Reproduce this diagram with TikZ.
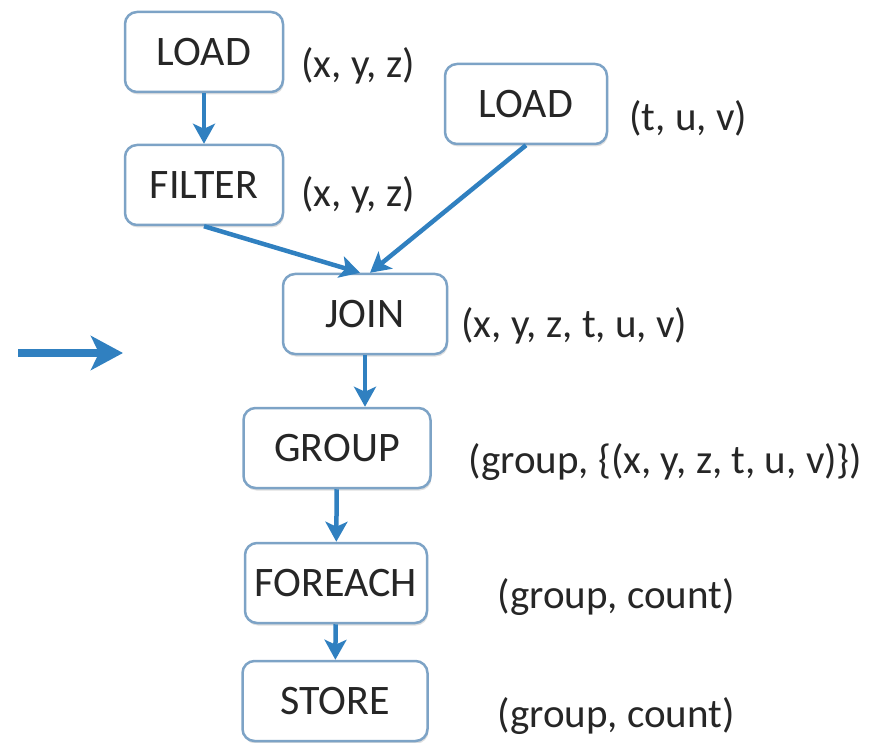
\documentclass[tikz,border=0pt]{standalone}
\usepackage{fontspec}
\setmainfont{Carlito}
\usetikzlibrary{arrows.meta,shadows}
\definecolor{boxline}{RGB}{125,163,198}
\definecolor{flow}{RGB}{48,128,192}
\definecolor{ink}{RGB}{38,38,38}
\begin{document}
\begin{tikzpicture}[x=1pt,y=-1pt,
   op/.style={draw=boxline, line width=2.5pt, rounded corners=12pt, fill=white,
      drop shadow={opacity=0.25, shadow xshift=1pt, shadow yshift=-2.5pt},
      minimum height=80pt, text=ink, font=\fontsize{42}{50}\selectfont},
   attr/.style={anchor=west, text=ink, font=\fontsize{41}{48}\selectfont},
   flowline/.style={draw=flow, line width=4.5pt, -{Stealth[length=20pt,width=22pt,inset=5pt]}}]
   \useasboundingbox (0,0) rectangle (891,743);
      \def \Ops {
         load1/204/52/158/LOAD,
         filter/204/185/158/FILTER,
         load2/526/104/162/LOAD,
         join/365/314/164/JOIN,
         group/337/448/187/GROUP,
         foreach/336/583/182/FOREACH,
         store/335/701/185/STORE}
      \def \Attrs {
         a1/298/66/{(x, y, z)},
         a2/298/195/{(x, y, z)},
         a3/626/118/{(t, u, v)},
         a4/458/326/{(x, y, z, t, u, v)},
         a5/465/462/{(group, \{(x, y, z, t, u, v)\})},
         a6/494/597/{(group, count)},
         a7/494/716/{(group, count)}}
      \foreach \u / \x / \y / \w / \t in \Ops {
         \node[op, minimum width=\w pt] (\u) at (\x, \y) {\t};
      }
      \foreach \u / \x / \y / \t in \Attrs {
         \node[attr] (\u) at (\x, \y) {\t};
      }
      % edges of the plan
      \path[flowline] (load1) -- (filter);
      \path[flowline] (filter.south) -- ([xshift=-5pt]join.north);
      \path[flowline] (load2.south) -- ([xshift=5pt]join.north);
      \path[flowline] (join.south) -- (join.south |- group.north);
      \path[flowline] (group) -- (foreach);
      \path[flowline] (foreach) -- (store);
      % pointer on the left
      \coordinate (p0) at (18, 353);
      \coordinate (p1) at (123, 353);
      \path[draw=flow, line width=8pt, -{Stealth[length=32pt,width=34pt,inset=8pt]}] (p0) -- (p1);
\end{tikzpicture}
\end{document}
